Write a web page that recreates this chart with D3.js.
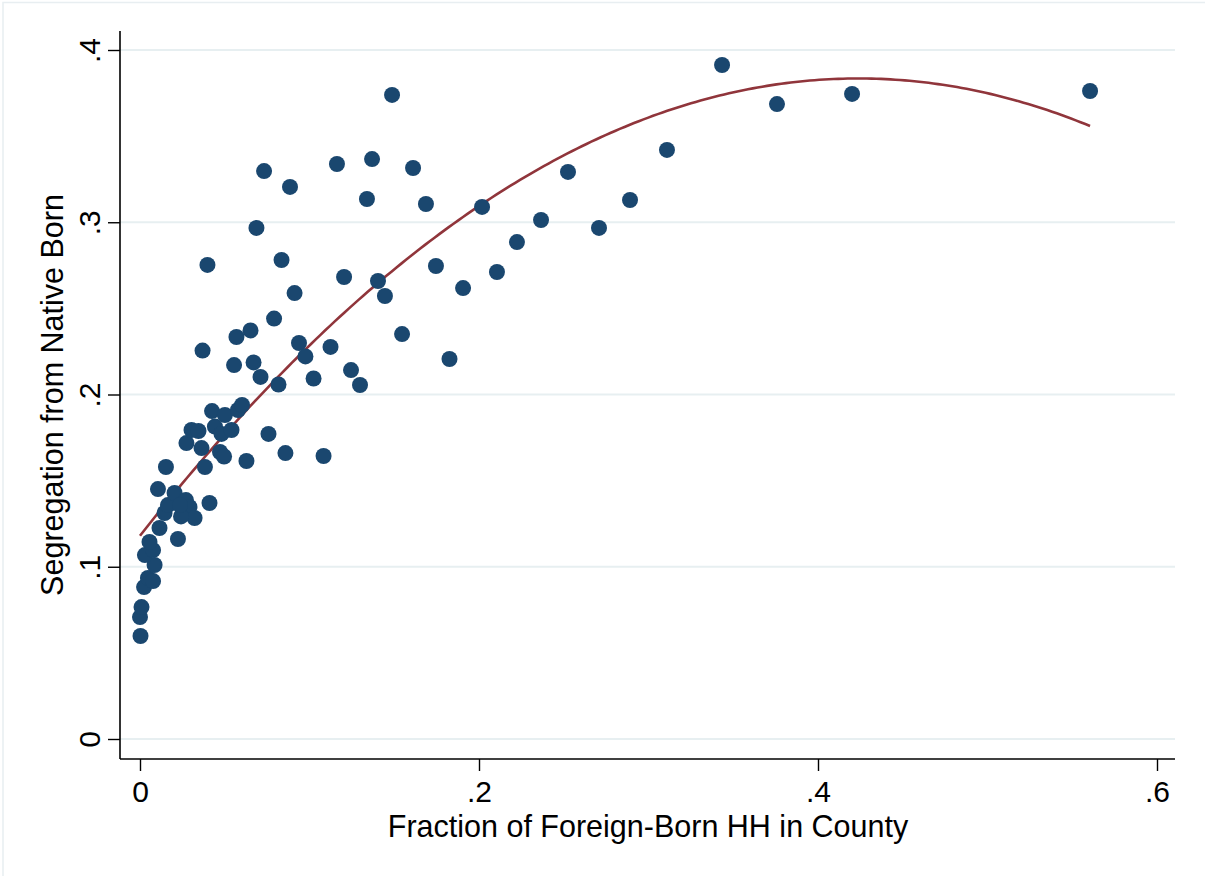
<!DOCTYPE html>
<html>
<head>
<meta charset="utf-8">
<script src="https://cdn.jsdelivr.net/npm/d3@7"></script>
<style>
  html, body { margin: 0; padding: 0; background: #ffffff; }
  svg { display: block; font-family: "Liberation Sans", Arial, sans-serif; }
</style>
</head>
<body>
<svg id="chart" width="1205" height="876"></svg>
<script>
// County observations: share of foreign-born households and segregation index
const fracForeign = [
  0.0003, 0.0000, 0.0009, 0.0024, 0.0047, 0.0077, 0.0086, 0.0029, 0.0077, 0.0056,
  0.0115, 0.0145, 0.0165, 0.0106, 0.0204, 0.0271, 0.0292, 0.0322, 0.0242, 0.0224,
  0.0410, 0.0153, 0.0236,
  0.0274, 0.0304, 0.0345, 0.0363, 0.0383, 0.0425, 0.0442, 0.0481, 0.0472, 0.0496,
  0.0501, 0.0540, 0.0578, 0.0602, 0.0628, 0.0758, 0.0858, 0.1083,
  0.0369, 0.0398, 0.0555, 0.0569, 0.0652, 0.0670, 0.0687, 0.0711, 0.0732, 0.0791,
  0.0817, 0.0835, 0.0885, 0.0912, 0.0938, 0.0976, 0.1024, 0.1124, 0.1162, 0.1204,
  0.1245, 0.1298, 0.1339, 0.1369, 0.1404, 0.1445, 0.1487, 0.1546, 0.1611, 0.1687,
  0.1746, 0.1826, 0.1906, 0.2018, 0.2106, 0.2224, 0.2366, 0.2525, 0.2708, 0.2891,
  0.3109, 0.3434, 0.3758, 0.4201, 0.5605
];
const segregation = [
  0.0598, 0.0708, 0.0766, 0.0882, 0.0935, 0.0917, 0.1010, 0.1068, 0.1097, 0.1144,
  0.1225, 0.1312, 0.1358, 0.1451, 0.1428, 0.1387, 0.1347, 0.1283, 0.1292, 0.1161,
  0.1370, 0.1579, 0.1358,
  0.1718, 0.1794, 0.1788, 0.1689, 0.1579, 0.1904, 0.1814, 0.1771, 0.1666, 0.1640,
  0.1881, 0.1794, 0.1910, 0.1939, 0.1614, 0.1771, 0.1660, 0.1643,
  0.2255, 0.2752, 0.2171, 0.2334, 0.2372, 0.2186, 0.2967, 0.2102, 0.3297, 0.2441,
  0.2058, 0.2781, 0.3205, 0.2589, 0.2299, 0.2221, 0.2093, 0.2276, 0.3338, 0.2682,
  0.2142, 0.2055, 0.3135, 0.3367, 0.2659, 0.2572, 0.3739, 0.2351, 0.3315, 0.3106,
  0.2746, 0.2206, 0.2618, 0.3089, 0.2711, 0.2885, 0.3013, 0.3292, 0.2967, 0.3129,
  0.3420, 0.3913, 0.3686, 0.3745, 0.3762
];

// Quadratic fit coefficients (intercept, linear, squared term)
const qfitCoef = [0.118, 1.2527, -1.4778];

const xTicks = [0, 0.2, 0.4, 0.6];
const xTickLabels = ["0", ".2", ".4", ".6"];
const yTicks = [0, 0.1, 0.2, 0.3, 0.4];
const yTickLabels = ["0", ".1", ".2", ".3", ".4"];

const xTitle = "Fraction of Foreign-Born HH in County";
const yTitle = "Segregation from Native Born";

const points = fracForeign.map((v, i) => ({ x: v, y: segregation[i] }));

// fitted curve sampled over the observed range of x
const xMin = d3.min(fracForeign), xMax = d3.max(fracForeign);
const fitLine = d3.range(0, 201).map(i => {
  const xv = xMin + (xMax - xMin) * i / 200;
  return { x: xv, y: qfitCoef[0] + qfitCoef[1] * xv + qfitCoef[2] * xv * xv };
});

const svg = d3.select("#chart");

// plot region
const plotLeft = 120, plotRight = 1175, plotTop = 31, plotBottom = 759;

const x = d3.scaleLinear().domain([0, 0.6]).range([140, 1157]);
const y = d3.scaleLinear().domain([0, 0.4]).range([739, 50]);

// outer graph border
svg.append("rect")
  .attr("x", 3).attr("y", 2.5)
  .attr("width", 1205).attr("height", 880)
  .attr("fill", "none")
  .attr("stroke", "#e8eef1")
  .attr("stroke-width", 1.5);

// horizontal gridlines
svg.append("g")
  .selectAll("line")
  .data(yTicks)
  .join("line")
  .attr("x1", plotLeft).attr("x2", plotRight)
  .attr("y1", d => y(d)).attr("y2", d => y(d))
  .attr("stroke", "#e7eff1")
  .attr("stroke-width", 2);

// fitted curve
svg.append("path")
  .datum(fitLine)
  .attr("fill", "none")
  .attr("stroke", "#90353b")
  .attr("stroke-width", 2.6)
  .attr("d", d3.line().x(d => x(d.x)).y(d => y(d.y)));

// scatter markers
svg.append("g")
  .selectAll("circle")
  .data(points)
  .join("circle")
  .attr("cx", d => x(d.x))
  .attr("cy", d => y(d.y))
  .attr("r", 8)
  .attr("fill", "#1a476f");

// x axis
const xAxis = d3.axisBottom(x)
  .tickValues(xTicks)
  .tickFormat((d, i) => xTickLabels[i])
  .tickSize(12)
  .tickPadding(10)
  .tickSizeOuter(0);
const gx = svg.append("g")
  .attr("transform", `translate(0,${plotBottom})`)
  .call(xAxis);
gx.select(".domain").remove();
gx.append("line")
  .attr("x1", plotLeft).attr("x2", plotRight)
  .attr("y1", 0).attr("y2", 0)
  .attr("stroke", "#000").attr("stroke-width", 1.6);
gx.selectAll(".tick line").attr("stroke", "#000").attr("stroke-width", 1.4);
gx.selectAll(".tick text")
  .attr("fill", "#000")
  .attr("font-size", 30)
  .attr("font-family", "Liberation Sans, Arial, sans-serif");

// y axis
const yAxis = d3.axisLeft(y)
  .tickValues(yTicks)
  .tickFormat((d, i) => yTickLabels[i])
  .tickSize(12)
  .tickPadding(8)
  .tickSizeOuter(0);
const gy = svg.append("g")
  .attr("transform", `translate(${plotLeft},0)`)
  .call(yAxis);
gy.select(".domain").remove();
gy.append("line")
  .attr("x1", 0).attr("x2", 0)
  .attr("y1", plotTop).attr("y2", plotBottom)
  .attr("stroke", "#000").attr("stroke-width", 1.6);
gy.selectAll(".tick line").attr("stroke", "#000").attr("stroke-width", 1.4);
gy.selectAll(".tick text")
  .attr("fill", "#000")
  .attr("font-size", 30)
  .attr("font-family", "Liberation Sans, Arial, sans-serif")
  .attr("text-anchor", "middle")
  .attr("dy", null)
  .attr("x", null)
  .attr("transform", "translate(-20,0) rotate(-90)")
  .attr("y", 0);

// axis titles
svg.append("text")
  .attr("x", 648).attr("y", 837)
  .attr("text-anchor", "middle")
  .attr("font-size", 30.5)
  .attr("fill", "#000")
  .text(xTitle);

svg.append("text")
  .attr("transform", `translate(63,395) rotate(-90)`)
  .attr("text-anchor", "middle")
  .attr("font-size", 30.5)
  .attr("fill", "#000")
  .text(yTitle);
</script>
</body>
</html>
